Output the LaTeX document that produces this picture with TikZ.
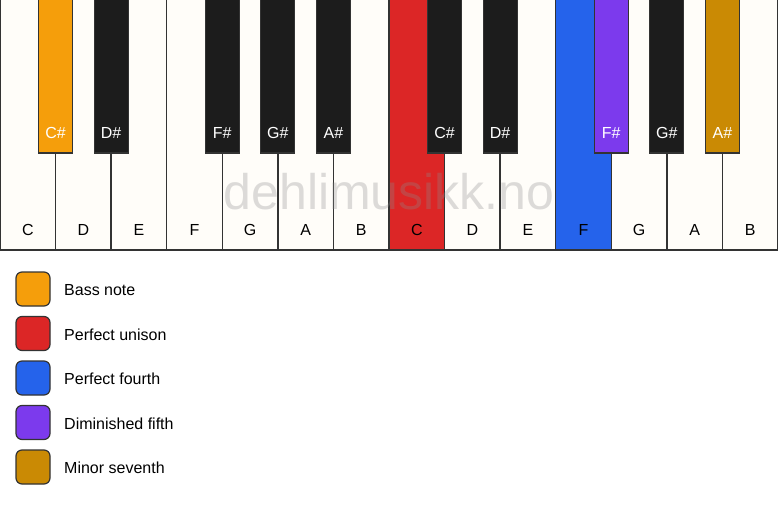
\documentclass[tikz,border=0pt]{standalone}
\usepackage{fontspec}
\setmainfont{Liberation Sans}
\definecolor{keywhite}{HTML}{FFFDF9}
\definecolor{keyblack}{HTML}{1C1C1C}
\definecolor{keyline}{HTML}{333333}
\definecolor{cbass}{HTML}{F59E0B}
\definecolor{cunison}{HTML}{DC2626}
\definecolor{cfourth}{HTML}{2563EB}
\definecolor{cfifth}{HTML}{7C3AED}
\definecolor{cseventh}{HTML}{CA8A04}
\begin{document}
\begin{tikzpicture}[x=1pt,y=-1pt,
  whitekey/.style={draw=keyline,line width=1.4pt,fill=keywhite},
  blackkey/.style={draw=keyline,line width=1.2pt,fill=keyblack},
  wlabel/.style={font=\fontsize{16}{18}\selectfont,text=black,inner sep=0pt},
  blabel/.style={font=\fontsize{16}{18}\selectfont,text=white,inner sep=0pt},
  legbox/.style={draw=keyline,line width=1.2pt,rounded corners=6pt,minimum width=34pt,minimum height=34pt,inner sep=0pt},
  legtext/.style={font=\fontsize{16}{18}\selectfont,anchor=west,inner sep=0pt}]
\useasboundingbox[fill=white] (0,0) rectangle (778,506);
\def\kw{55.5714}
% white keys
\foreach \i/\n/\c in {0/C/keywhite,1/D/keywhite,2/E/keywhite,3/F/keywhite,4/G/keywhite,5/A/keywhite,6/B/keywhite,7/C/cunison,8/D/keywhite,9/E/keywhite,10/F/cfourth,11/G/keywhite,12/A/keywhite,13/B/keywhite}{
  \draw[whitekey,fill=\c] ({\i*\kw},-2) rectangle ({(\i+1)*\kw},250);
}
% watermark
\node[font=\fontsize{50}{50}\selectfont,text=black!45,opacity=0.3,inner sep=0pt] (wm) at (389,192) {dehlimusikk.no};
\foreach \i/\n in {0/C,1/D,2/E,3/F,4/G,5/A,6/B,7/C,8/D,9/E,10/F,11/G,12/A,13/B}{
  \node[wlabel] (w\i) at ({(\i+0.5)*\kw},230) {\n};
}
% black keys
\foreach \b/\n/\c in {1/C\#/cbass,2/D\#/keyblack,4/F\#/keyblack,5/G\#/keyblack,6/A\#/keyblack,8/C\#/keyblack,9/D\#/keyblack,11/F\#/cfifth,12/G\#/keyblack,13/A\#/cseventh}{
  \draw[blackkey,fill=\c] ({\b*\kw-17},-2) rectangle ({\b*\kw+17},153);
  \node[blabel] (b\b) at ({\b*\kw},133) {\n};
}
% legend
\node[legbox,fill=cbass] (l1) at (33,289) {};
\node[legtext] (t1) at (64,290) {Bass note};
\node[legbox,fill=cunison] (l2) at (33,333.5) {};
\node[legtext] (t2) at (64,334.5) {Perfect unison};
\node[legbox,fill=cfourth] (l3) at (33,378) {};
\node[legtext] (t3) at (64,379) {Perfect fourth};
\node[legbox,fill=cfifth] (l4) at (33,422.5) {};
\node[legtext] (t4) at (64,423.5) {Diminished fifth};
\node[legbox,fill=cseventh] (l5) at (33,467) {};
\node[legtext] (t5) at (64,468) {Minor seventh};
\end{tikzpicture}
\end{document}
